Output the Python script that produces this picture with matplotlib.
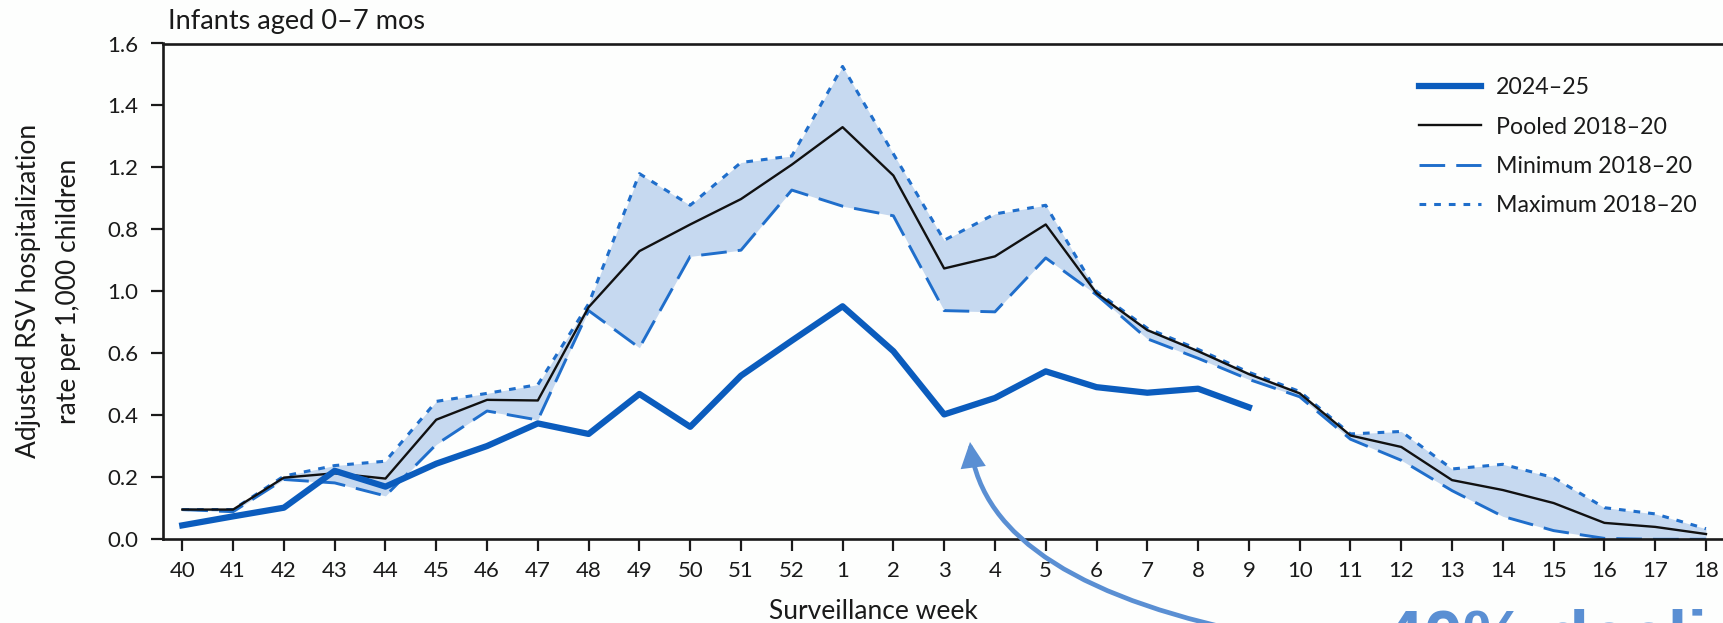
import matplotlib
matplotlib.use("Agg")
import matplotlib.pyplot as plt
from matplotlib.path import Path
from matplotlib.patches import FancyArrowPatch
from matplotlib.lines import Line2D

# Surveillance weeks of the season (week 40 through week 18 of the next year)
weeks = list(range(40, 53)) + list(range(1, 19))

# Adjusted RSV hospitalization rate per 1,000 children, infants aged 0-7 months
season_2024_25 = [0.045, 0.074, 0.102, 0.221, 0.170, 0.244, 0.301, 0.374, 0.340,
                  0.469, 0.363, 0.528, 0.641, 0.752, 0.607, 0.403, 0.456, 0.542,
                  0.491, 0.473, 0.486, 0.426]
pooled_2018_20 = [0.096, 0.096, 0.199, 0.213, 0.196, 0.386, 0.450, 0.448, 0.749,
                  0.930, 1.016, 1.098, 1.209, 1.330, 1.174, 0.874, 0.913, 1.016,
                  0.794, 0.675, 0.607, 0.533, 0.471, 0.335, 0.298, 0.191, 0.159,
                  0.117, 0.053, 0.040, 0.017]
minimum_2018_20 = [0.096, 0.089, 0.193, 0.182, 0.140, 0.306, 0.414, 0.385, 0.738,
                   0.618, 0.913, 0.933, 1.127, 1.075, 1.044, 0.738, 0.734, 0.908,
                   0.789, 0.647, 0.584, 0.516, 0.460, 0.323, 0.255, 0.157, 0.074,
                   0.028, 0.003, 0.000, 0.000]
maximum_2018_20 = [0.096, 0.096, 0.204, 0.238, 0.252, 0.445, 0.471, 0.499, 0.760,
                   1.180, 1.078, 1.216, 1.237, 1.526, 1.244, 0.965, 1.050, 1.078,
                   0.800, 0.681, 0.613, 0.539, 0.477, 0.340, 0.348, 0.227, 0.242,
                   0.199, 0.102, 0.082, 0.034]

y_tick_values = [0.0, 0.2, 0.4, 0.6, 0.8, 1.0, 1.2, 1.4, 1.6]
y_tick_labels = ["0.0", "0.2", "0.4", "0.6", "1.0", "0.8", "1.2", "1.4", "1.6"]

series_labels = ["2024\u201325", "Pooled 2018\u201320", "Minimum 2018\u201320",
                 "Maximum 2018\u201320"]

W_PX, H_PX = 1723, 623
FONT = "Lato"
TICK_FS = 16
LEGEND_FS = 16.7
TITLE_FS = 19.5
LABEL_FS = 19
DARK_BLUE = "#0b5cbd"
MID_BLUE = "#1f6ecb"
BAND = "#c6d9f0"
ARROW_BLUE = "#5a8fd3"
INK = "#1a1a1a"

plt.rcParams["font.family"] = [FONT, "DejaVu Sans"]
plt.rcParams["text.color"] = INK

fig = plt.figure(figsize=(W_PX / 100, H_PX / 100), dpi=100, facecolor="#fdfefd")


def fpx(x, y):
    """Figure-fraction coordinates from pixel position measured from the top-left."""
    return (x / W_PX, 1 - y / H_PX)


left_px, right_px, top_px, bottom_px = 162.6, 1723, 43.5, 539.3
ax = fig.add_axes([left_px / W_PX, 1 - bottom_px / H_PX,
                   (right_px - left_px) / W_PX, (bottom_px - top_px) / H_PX])
ax.set_facecolor("#fdfefd")

x_all = list(range(len(weeks)))
x_cur = x_all[:len(season_2024_25)]

min_dash = (8.8, 3.8)
max_dots = (2.2, 2.6)

ax.fill_between(x_all, minimum_2018_20, maximum_2018_20, color=BAND, lw=0, zorder=1)
ax.plot(x_all, minimum_2018_20, color=MID_BLUE, lw=2.1, dashes=min_dash,
        zorder=2, dash_capstyle="butt")
ax.plot(x_all, maximum_2018_20, color=MID_BLUE, lw=2.2, dashes=max_dots,
        zorder=2, dash_capstyle="butt")
ax.plot(x_all, pooled_2018_20, color="#111111", lw=1.7, zorder=3)
ax.plot(x_cur, season_2024_25, color=DARK_BLUE, lw=4.5, zorder=4)

ax.set_xlim(-0.388, 30.335)
ax.set_ylim(0, 1.6)
ax.set_xticks(x_all)
ax.set_xticklabels([str(w) for w in weeks])
ax.set_yticks(y_tick_values)
ax.set_yticklabels(y_tick_labels)
ax.tick_params(axis="both", direction="out", length=8.6, width=1.6,
               color=INK, labelsize=TICK_FS, labelcolor=INK)
ax.tick_params(axis="y", pad=9)
ax.tick_params(axis="x", pad=7)

for side in ("left", "bottom", "top"):
    ax.spines[side].set_linewidth(1.9)
    ax.spines[side].set_color(INK)
ax.spines["right"].set_visible(False)

handles = [
    Line2D([], [], color=DARK_BLUE, lw=4.5),
    Line2D([], [], color="#111111", lw=1.7),
    Line2D([], [], color=MID_BLUE, lw=2.1, dashes=min_dash),
    Line2D([], [], color=MID_BLUE, lw=2.2, dashes=max_dots),
]
fig.legend(handles, series_labels, loc="upper left",
           bbox_to_anchor=fpx(1419, 77.5), frameon=False,
           fontsize=LEGEND_FS, handlelength=2.66, handletextpad=0.65,
           labelspacing=0.78, borderpad=0, borderaxespad=0)

fig.text(*fpx(168, 29), "Infants aged 0\u20137 mos", ha="left",
         va="baseline", fontsize=TITLE_FS)
fig.text(*fpx(29, 291), "Adjusted RSV hospitalization", ha="center",
         va="center", rotation=90, fontsize=LABEL_FS)
fig.text(*fpx(69, 291), "rate per 1,000 children", ha="center",
         va="center", rotation=90, fontsize=LABEL_FS)
fig.text(*fpx(873, 619), "Surveillance week", ha="center",
         va="baseline", fontsize=LABEL_FS)

# Callout: curved arrow rising from the bottom-right caption to the 2024-25 curve
arrow_path = Path([fpx(1270, 637), fpx(988, 584), fpx(970, 442)],
                  [Path.MOVETO, Path.CURVE3, Path.CURVE3])
arrow = FancyArrowPatch(path=arrow_path, transform=fig.transFigure,
                        arrowstyle="-|>,head_length=0.65,head_width=0.32",
                        mutation_scale=20, color=ARROW_BLUE, lw=3.4,
                        joinstyle="miter")
fig.add_artist(arrow)

fig.text(*fpx(1384, 659), "40% decline", ha="left", va="baseline",
         fontsize=51, fontweight="bold", color=ARROW_BLUE,
         family=["Liberation Sans", "DejaVu Sans"])

fig.savefig("out.png", dpi=100, facecolor=fig.get_facecolor())
